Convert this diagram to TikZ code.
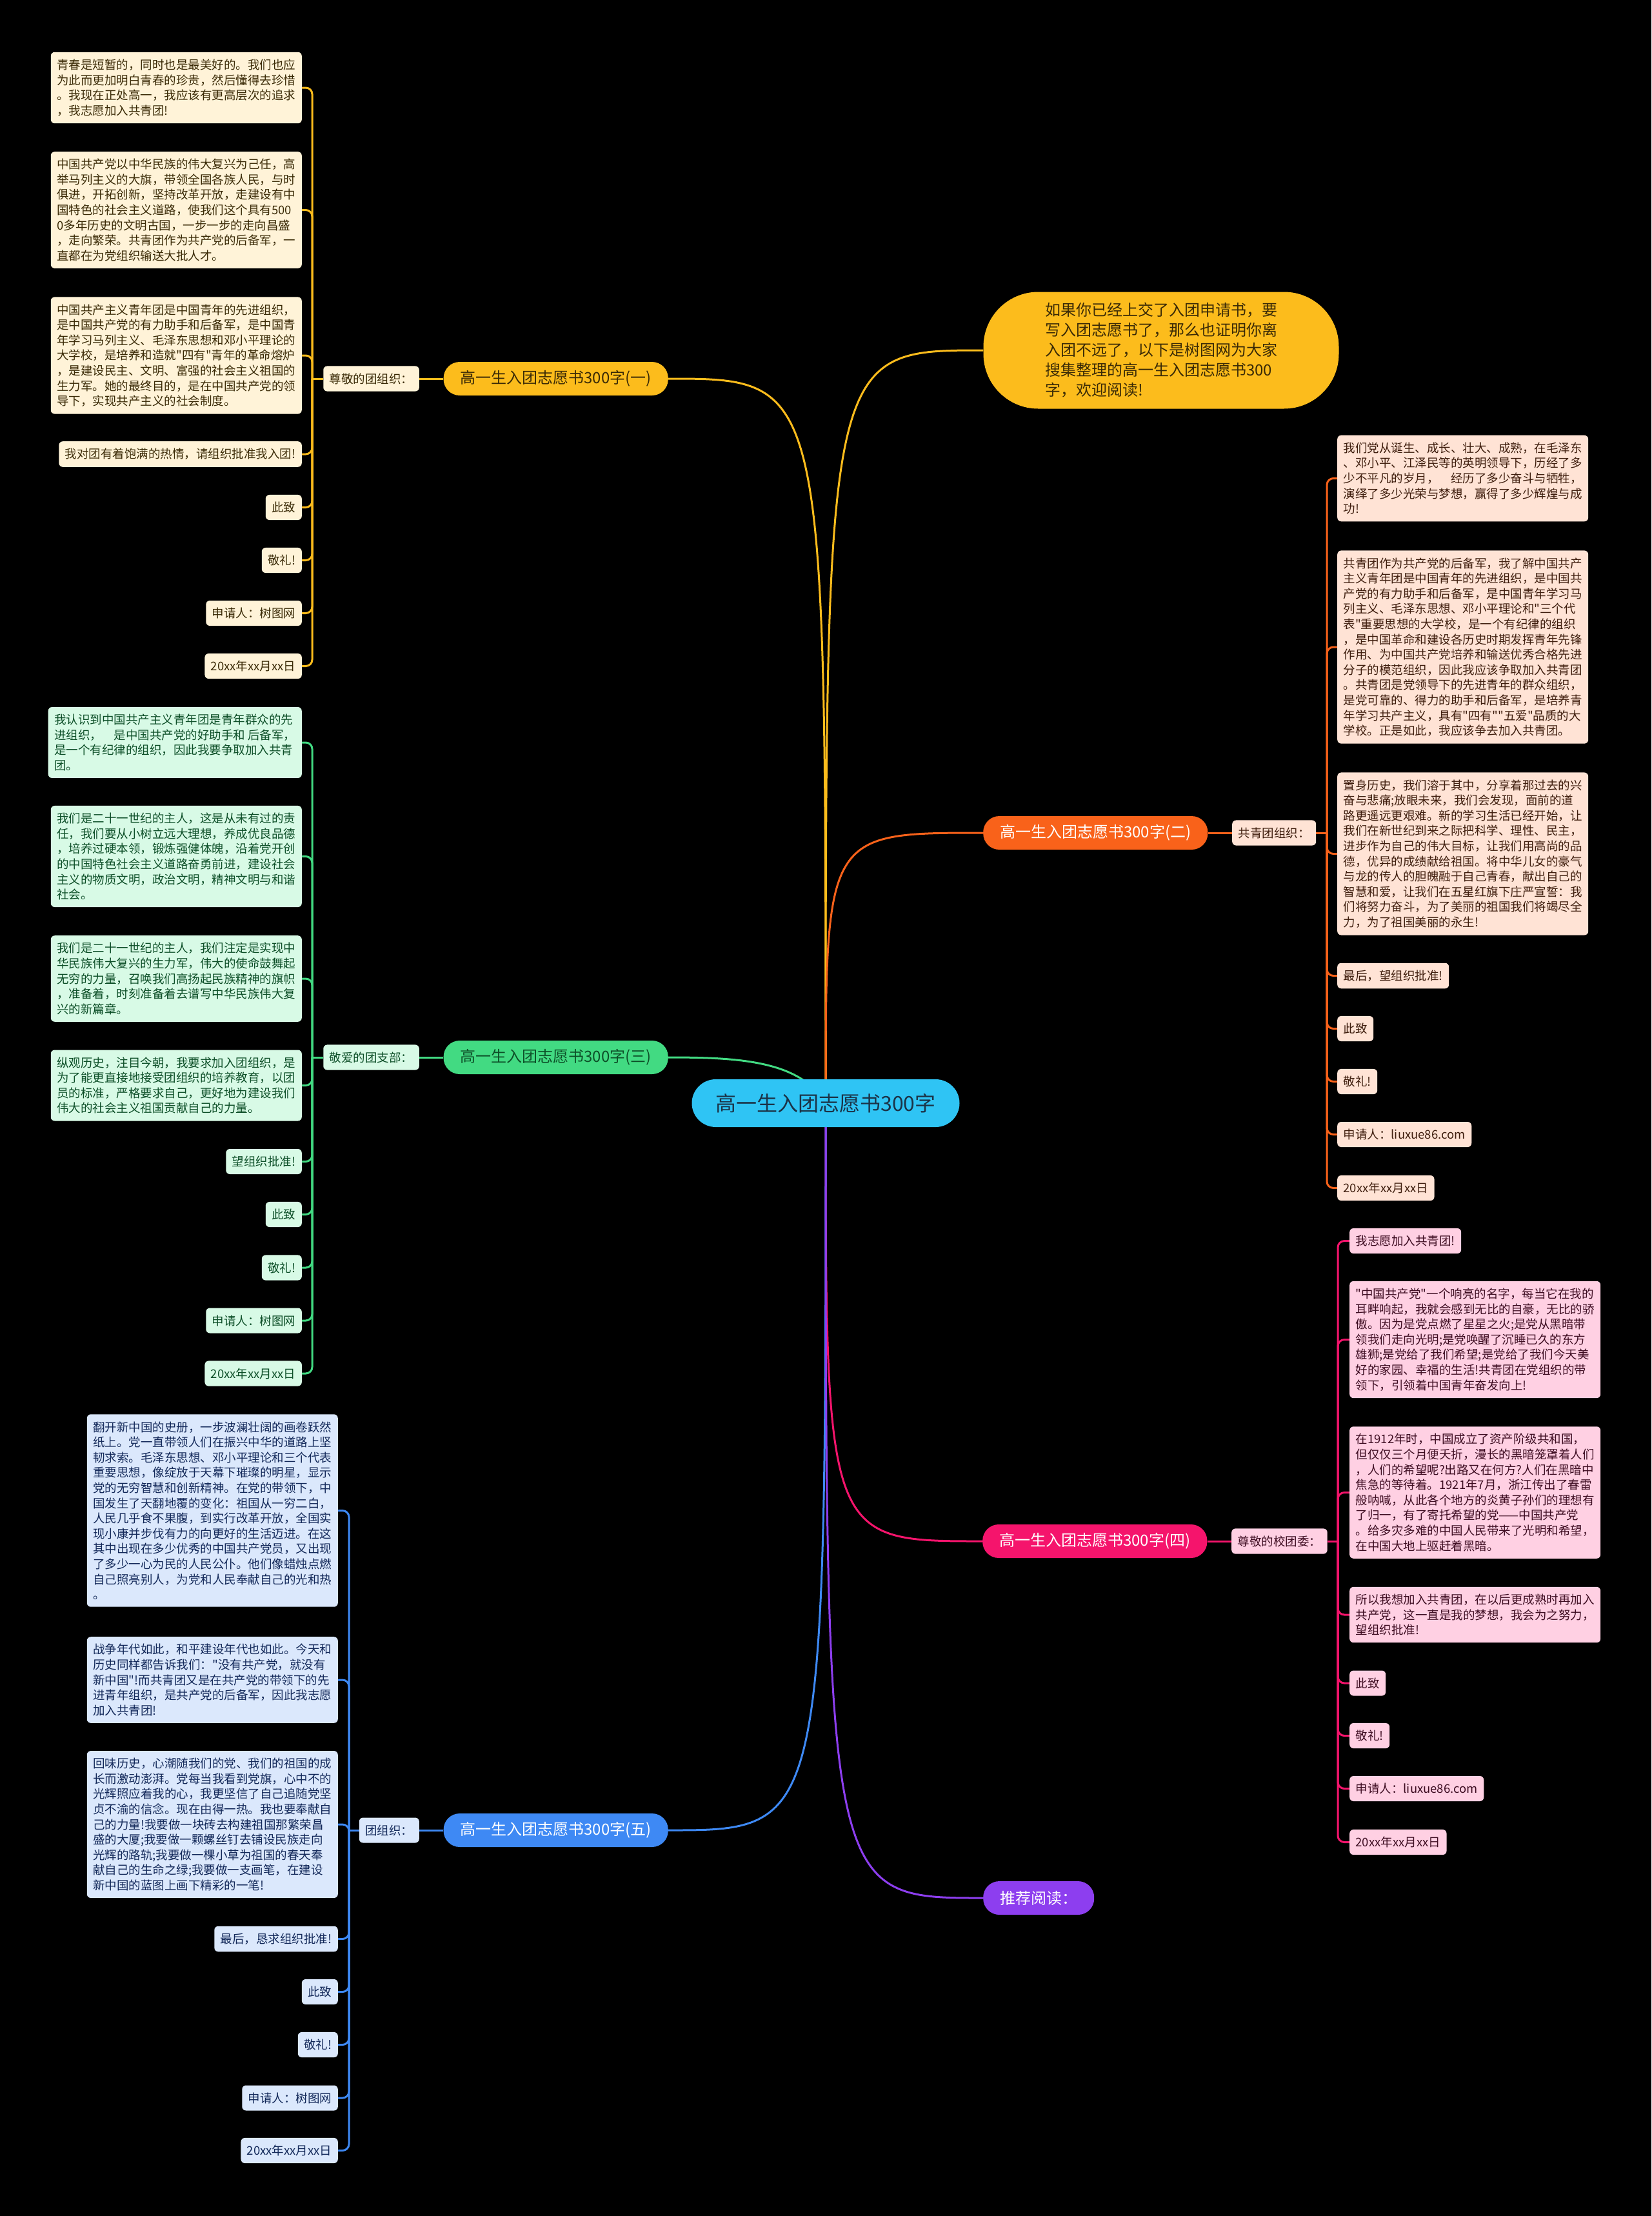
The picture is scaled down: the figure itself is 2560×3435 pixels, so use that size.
\documentclass[tikz,border=0pt]{standalone}
\usepackage{fontspec}
\setmainfont{Noto Sans CJK SC}
\newfontfamily\nf{Noto Sans CJK SC}
\usetikzlibrary{backgrounds}
\definecolor{cyanC}{HTML}{2FC4F4}
\definecolor{cyanT}{HTML}{1B3347}
\definecolor{yelC}{HTML}{FCBC1C}
\definecolor{oraC}{HTML}{F9621A}
\definecolor{grnC}{HTML}{42DA82}
\definecolor{pnkC}{HTML}{F5146C}
\definecolor{bluC}{HTML}{3E89F4}
\definecolor{purC}{HTML}{8D3EEF}
\definecolor{yelL}{HTML}{FFF3D8}
\definecolor{oraL}{HTML}{FFE3D5}
\definecolor{grnL}{HTML}{D8FAE6}
\definecolor{pnkL}{HTML}{FFD0E3}
\definecolor{bluL}{HTML}{DBE8FC}
\definecolor{yelT}{HTML}{3A2A06}
\definecolor{oraT}{HTML}{3F1E0E}
\definecolor{grnT}{HTML}{0D4F28}
\definecolor{pnkT}{HTML}{3E0D22}
\definecolor{bluT}{HTML}{13295A}
\newcommand\leafsize{\nf\fontsize{18.5pt}{23.6pt}\selectfont}
\newcommand\branchsize{\nf\fontsize{24pt}{28pt}\selectfont}
\tikzset{
  leafbox/.style={rounded corners=6pt, inner xsep=9.5pt, inner ysep=11pt, align=left, font=\leafsize},
  lfy/.style={leafbox, fill=yelL, text=yelT},
  lfo/.style={leafbox, fill=oraL, text=oraT},
  lfg/.style={leafbox, fill=grnL, text=grnT},
  lfp/.style={leafbox, fill=pnkL, text=pnkT},
  lfb/.style={leafbox, fill=bluL, text=bluT},
  branchbox/.style={rounded corners=25pt, minimum height=52pt, inner xsep=26pt, inner ysep=0pt, font=\branchsize},
  conn/.style={line width=3pt, rounded corners=10pt},
  curve/.style={line width=3pt}
}
\begin{document}
\begin{tikzpicture}[x=1pt,y=-1pt]
\begin{pgfonlayer}{background}
\fill[black] (0,0) rectangle (2560,3435);
\end{pgfonlayer}
\useasboundingbox (0,0) rectangle (2560,3435);

% root and intro
\node[fill=cyanC, text=cyanT, rounded corners=37pt, minimum height=74pt, minimum width=415pt, inner sep=0pt, font=\nf\fontsize{32pt}{36pt}\selectfont] (root) at (1280,1710) {高一生入团志愿书300字};
\node[fill=yelC, text=yelT, rounded corners=85pt, minimum width=551pt, minimum height=181pt, align=left, font=\nf\fontsize{24pt}{31pt}\selectfont] (intro) at (1800,543) {如果你已经上交了入团申请书，要\\写入团志愿书了，那么也证明你离\\入团不远了，以下是树图网为大家\\搜集整理的高一生入团志愿书300\\字，欢迎阅读!};

% branch nodes
\node[branchbox, fill=yelC, text=yelT, anchor=east] (b1) at (1036,587) {高一生入团志愿书300字(一)};
\node[branchbox, fill=oraC, text=white, anchor=west] (b2) at (1524,1291) {高一生入团志愿书300字(二)};
\node[branchbox, fill=grnC, text=grnT, anchor=east] (b3) at (1036,1639) {高一生入团志愿书300字(三)};
\node[branchbox, fill=pnkC, text=white, anchor=west] (b4) at (1523,2389) {高一生入团志愿书300字(四)};
\node[branchbox, fill=bluC, text=white, anchor=east] (b5) at (1036,2837) {高一生入团志愿书300字(五)};
\node[branchbox, fill=purC, text=white, anchor=west] (b6) at (1524,2942) {推荐阅读：};

% labels
\node[lfy, anchor=east] (l1) at (650,587) {尊敬的团组织：};
\node[lfo, anchor=west] (l2) at (1910,1291) {共青团组织：};
\node[lfg, anchor=east] (l3) at (650,1639) {敬爱的团支部：};
\node[lfp, anchor=west] (l4) at (1909,2389) {尊敬的校团委：};
\node[lfb, anchor=east] (l5) at (650,2837) {团组织：};

\coordinate (s1) at (484,587);
\coordinate (s2) at (2057,1291);
\coordinate (s3) at (484,1639);
\coordinate (s4) at (2074,2389);
\coordinate (s5) at (541,2837);

% branch 1 leaves
\node[lfy, anchor=east] (a1) at (468,136) {青春是短暂的，同时也是最美好的。我们也应\\为此而更加明白青春的珍贵，然后懂得去珍惜\\。我现在正处高一，我应该有更高层次的追求\\，我志愿加入共青团!};
\node[lfy, anchor=east] (a2) at (468,325.5) {中国共产党以中华民族的伟大复兴为己任，高\\举马列主义的大旗，带领全国各族人民，与时\\俱进，开拓创新，坚持改革开放，走建设有中\\国特色的社会主义道路，使我们这个具有500\\0多年历史的文明古国，一步一步的走向昌盛\\，走向繁荣。共青团作为共产党的后备军，一\\直都在为党组织输送大批人才。};
\node[lfy, anchor=east] (a3) at (468,551) {中国共产主义青年团是中国青年的先进组织，\\是中国共产党的有力助手和后备军，是中国青\\年学习马列主义、毛泽东思想和邓小平理论的\\大学校，是培养和造就"四有"青年的革命熔炉\\，是建设民主、文明、富强的社会主义祖国的\\生力军。她的最终目的，是在中国共产党的领\\导下，实现共产主义的社会制度。};
\node[lfy, anchor=east] (a4) at (468,704) {我对团有着饱满的热情，请组织批准我入团!};
\node[lfy, anchor=east] (a5) at (468,786.5) {此致};
\node[lfy, anchor=east] (a6) at (468,868.5) {敬礼!};
\node[lfy, anchor=east] (a7) at (468,950.5) {申请人：树图网};
\node[lfy, anchor=east] (a8) at (468,1032.5) {20xx年xx月xx日};

% branch 2 leaves
\node[lfo, anchor=west] (o1) at (2073,741.5) {我们党从诞生、成长、壮大、成熟，在毛泽东\\、邓小平、江泽民等的英明领导下，历经了多\\少不平凡的岁月，　经历了多少奋斗与牺牲，\\演绎了多少光荣与梦想，赢得了多少辉煌与成\\功!};
\node[lfo, anchor=west] (o2) at (2073,1003) {共青团作为共产党的后备军，我了解中国共产\\主义青年团是中国青年的先进组织，是中国共\\产党的有力助手和后备军，是中国青年学习马\\列主义、毛泽东思想、邓小平理论和"三个代\\表"重要思想的大学校，是一个有纪律的组织\\，是中国革命和建设各历史时期发挥青年先锋\\作用、为中国共产党培养和输送优秀合格先进\\分子的模范组织，因此我应该争取加入共青团\\。共青团是党领导下的先进青年的群众组织，\\是党可靠的、得力的助手和后备军，是培养青\\年学习共产主义，具有"四有""五爱"品质的大\\学校。正是如此，我应该争去加入共青团。};
\node[lfo, anchor=west] (o3) at (2073,1323.5) {置身历史，我们溶于其中，分享着那过去的兴\\奋与悲痛;放眼未来，我们会发现，面前的道\\路更遥远更艰难。新的学习生活已经开始，让\\我们在新世纪到来之际把科学、理性、民主，\\进步作为自己的伟大目标，让我们用高尚的品\\德，优异的成绩献给祖国。将中华儿女的豪气\\与龙的传人的胆魄融于自己青春，献出自己的\\智慧和爱，让我们在五星红旗下庄严宣誓：我\\们将努力奋斗，为了美丽的祖国我们将竭尽全\\力，为了祖国美丽的永生!};
\node[lfo, anchor=west] (o4) at (2073,1512.5) {最后，望组织批准!};
\node[lfo, anchor=west] (o5) at (2073,1594.5) {此致};
\node[lfo, anchor=west] (o6) at (2073,1676.5) {敬礼!};
\node[lfo, anchor=west] (o7) at (2073,1758.5) {申请人：liuxue86.com};
\node[lfo, anchor=west] (o8) at (2073,1841.5) {20xx年xx月xx日};

% branch 3 leaves
\node[lfg, anchor=east] (g1) at (468,1151) {我认识到中国共产主义青年团是青年群众的先\\进组织，　是中国共产党的好助手和 后备军，\\是一个有纪律的组织，因此我要争取加入共青\\团。};
\node[lfg, anchor=east] (g2) at (468,1327.5) {我们是二十一世纪的主人，这是从未有过的责\\任，我们要从小树立远大理想，养成优良品德\\，培养过硬本领，锻炼强健体魄，沿着党开创\\的中国特色社会主义道路奋勇前进，建设社会\\主义的物质文明，政治文明，精神文明与和谐\\社会。};
\node[lfg, anchor=east] (g3) at (468,1517) {我们是二十一世纪的主人，我们注定是实现中\\华民族伟大复兴的生力军，伟大的使命鼓舞起\\无穷的力量，召唤我们高扬起民族精神的旗帜\\，准备着，时刻准备着去谱写中华民族伟大复\\兴的新篇章。};
\node[lfg, anchor=east] (g4) at (468,1682.5) {纵观历史，注目今朝，我要求加入团组织，是\\为了能更直接地接受团组织的培养教育，以团\\员的标准，严格要求自己，更好地为建设我们\\伟大的社会主义祖国贡献自己的力量。};
\node[lfg, anchor=east] (g5) at (468,1800.5) {望组织批准!};
\node[lfg, anchor=east] (g6) at (468,1882.5) {此致};
\node[lfg, anchor=east] (g7) at (468,1965) {敬礼!};
\node[lfg, anchor=east] (g8) at (468,2047) {申请人：树图网};
\node[lfg, anchor=east] (g9) at (468,2129) {20xx年xx月xx日};

% branch 4 leaves
\node[lfp, anchor=west] (p1) at (2092,1923.5) {我志愿加入共青团!};
\node[lfp, anchor=west] (p2) at (2092,2076.5) {"中国共产党"一个响亮的名字，每当它在我的\\耳畔响起，我就会感到无比的自豪，无比的骄\\傲。因为是党点燃了星星之火;是党从黑暗带\\领我们走向光明;是党唤醒了沉睡已久的东方\\雄狮;是党给了我们希望;是党给了我们今天美\\好的家园、幸福的生活!共青团在党组织的带\\领下，引领着中国青年奋发向上!};
\node[lfp, anchor=west] (p3) at (2092,2313.5) {在1912年时，中国成立了资产阶级共和国，\\但仅仅三个月便夭折，漫长的黑暗笼罩着人们\\，人们的希望呢?出路又在何方?人们在黑暗中\\焦急的等待着。1921年7月，浙江传出了春雷\\般呐喊，从此各个地方的炎黄子孙们的理想有\\了归一，有了寄托希望的党——中国共产党\\。给多灾多难的中国人民带来了光明和希望，\\在中国大地上驱赶着黑暗。};
\node[lfp, anchor=west] (p4) at (2092,2503) {所以我想加入共青团，在以后更成熟时再加入\\共产党，这一直是我的梦想，我会为之努力，\\望组织批准!};
\node[lfp, anchor=west] (p5) at (2092,2609) {此致};
\node[lfp, anchor=west] (p6) at (2092,2690.5) {敬礼!};
\node[lfp, anchor=west] (p7) at (2092,2772.5) {申请人：liuxue86.com};
\node[lfp, anchor=west] (p8) at (2092,2855.5) {20xx年xx月xx日};

% branch 5 leaves
\node[lfb, anchor=east] (u1) at (524,2341.5) {翻开新中国的史册，一步波澜壮阔的画卷跃然\\纸上。党一直带领人们在振兴中华的道路上坚\\韧求索。毛泽东思想、邓小平理论和三个代表\\重要思想，像绽放于天幕下璀璨的明星，显示\\党的无穷智慧和创新精神。在党的带领下，中\\国发生了天翻地覆的变化：祖国从一穷二白，\\人民几乎食不果腹，到实行改革开放，全国实\\现小康并步伐有力的向更好的生活迈进。在这\\其中出现在多少优秀的中国共产党员，又出现\\了多少一心为民的人民公仆。他们像蜡烛点燃\\自己照亮别人，为党和人民奉献自己的光和热\\。};
\node[lfb, anchor=east] (u2) at (524,2604) {战争年代如此，和平建设年代也如此。今天和\\历史同样都告诉我们："没有共产党，就没有\\新中国"!而共青团又是在共产党的带领下的先\\进青年组织，是共产党的后备军，因此我志愿\\加入共青团!};
\node[lfb, anchor=east] (u3) at (524,2828) {回味历史，心潮随我们的党、我们的祖国的成\\长而激动澎湃。党每当我看到党旗，心中不的\\光辉照应着我的心，我更坚信了自己追随党坚\\贞不渝的信念。现在由得一热。我也要奉献自\\己的力量!我要做一块砖去构建祖国那繁荣昌\\盛的大厦;我要做一颗螺丝钉去铺设民族走向\\光辉的路轨;我要做一棵小草为祖国的春天奉\\献自己的生命之绿;我要做一支画笔，在建设\\新中国的蓝图上画下精彩的一笔!};
\node[lfb, anchor=east] (u4) at (524,3005.5) {最后，恳求组织批准!};
\node[lfb, anchor=east] (u5) at (524,3087.5) {此致};
\node[lfb, anchor=east] (u6) at (524,3169.5) {敬礼!};
\node[lfb, anchor=east] (u7) at (524,3252) {申请人：树图网};
\node[lfb, anchor=east] (u8) at (524,3333.5) {20xx年xx月xx日};

\begin{pgfonlayer}{background}
% root curves
\draw[curve, yelC] (root.center) .. controls (1280,587) .. (b1.east);
\draw[curve, yelC] (root.center) .. controls (1280,543) .. (intro.west);
\draw[curve, grnC] (root.center) .. controls (1240,1645) and (1150,1639) .. (b3.east);
\draw[curve, oraC] (root.center) .. controls (1280,1291) .. (b2.west);
\draw[curve, pnkC] (root.center) .. controls (1280,2389) .. (b4.west);
\draw[curve, bluC] (root.center) .. controls (1280,2837) .. (b5.east);
\draw[curve, purC] (root.center) .. controls (1280,2942) .. (b6.west);
% branch to label
\draw[conn, yelC] (b1.west) -- (l1.east);
\draw[conn, oraC] (b2.east) -- (l2.west);
\draw[conn, grnC] (b3.west) -- (l3.east);
\draw[conn, pnkC] (b4.east) -- (l4.west);
\draw[conn, bluC] (b5.west) -- (l5.east);
\draw[conn, yelC] (l1.west) -- (s1);
\draw[conn, oraC] (l2.east) -- (s2);
\draw[conn, grnC] (l3.west) -- (s3);
\draw[conn, pnkC] (l4.east) -- (s4);
\draw[conn, bluC] (l5.west) -- (s5);
% spines to leaves
\foreach \n in {1,...,8} \draw[conn, yelC] (s1) |- (a\n.east);
\foreach \n in {1,...,8} \draw[conn, oraC] (s2) |- (o\n.west);
\foreach \n in {1,...,9} \draw[conn, grnC] (s3) |- (g\n.east);
\foreach \n in {1,...,8} \draw[conn, pnkC] (s4) |- (p\n.west);
\foreach \n in {1,...,8} \draw[conn, bluC] (s5) |- (u\n.east);
\end{pgfonlayer}
\end{tikzpicture}
\end{document}
